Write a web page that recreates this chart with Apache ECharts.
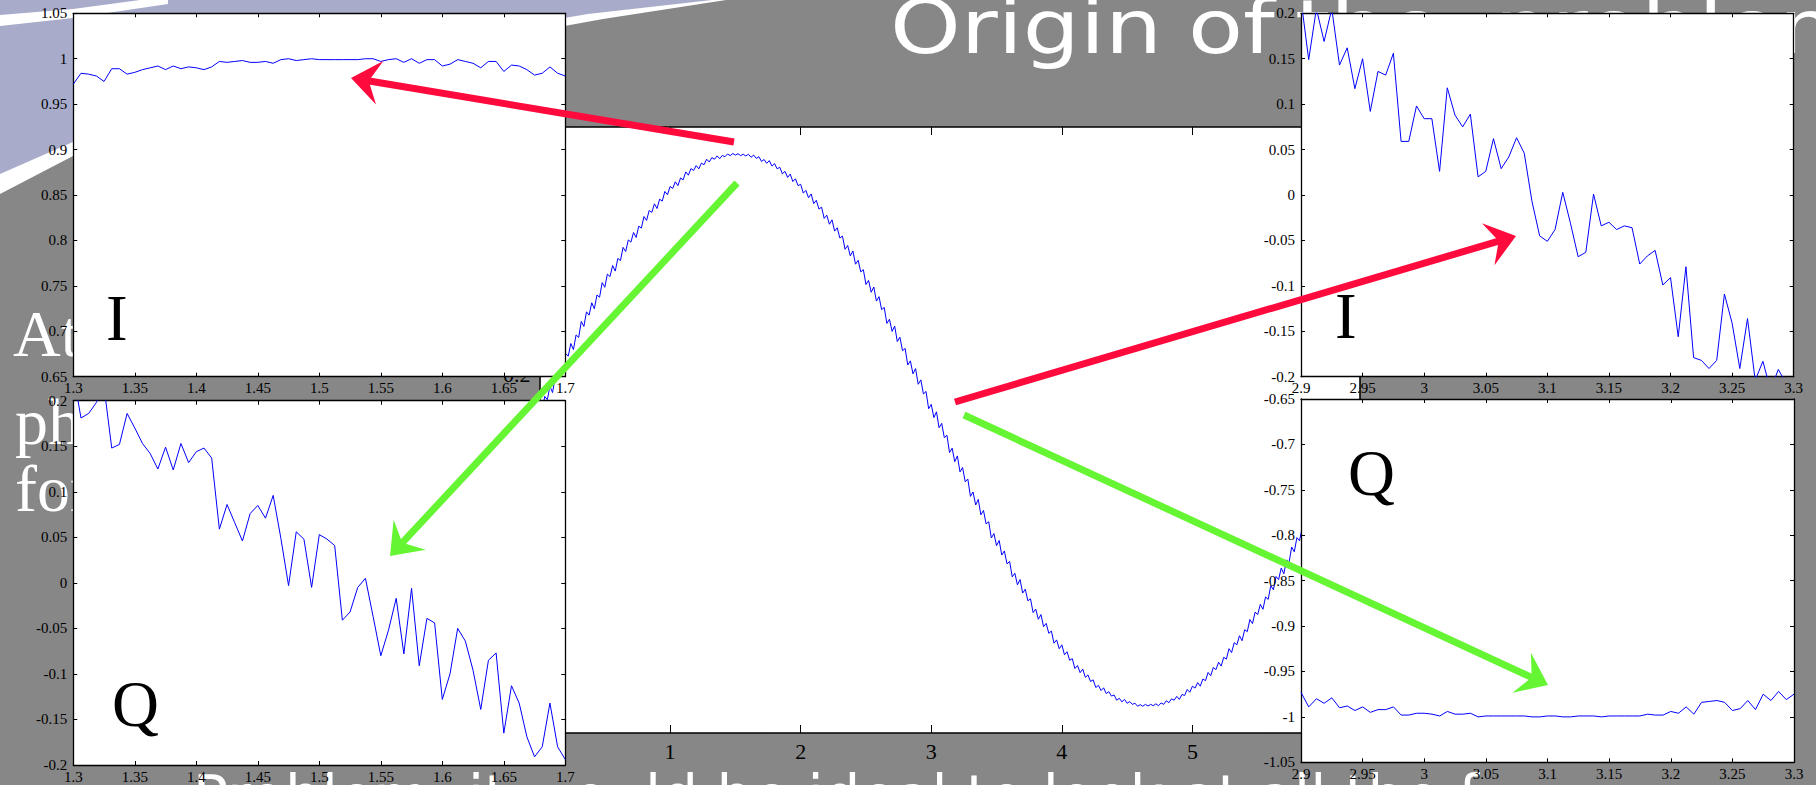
<!DOCTYPE html>
<html>
<head>
<meta charset="utf-8">
<script src="https://cdn.jsdelivr.net/npm/echarts/dist/echarts.min.js"></script>
<style>
html,body{margin:0;padding:0;background:#878787;overflow:hidden;}
#c{width:1816px;height:785px;}
</style>
</head>
<body>
<div id="c"></div>
<script>
// ---------------- DATA ----------------
// main plot: noisy received sinusoid, sampled on a regular grid (x = 0, 0.02, ... 6.28)
const centerXStart = 0;
const centerXStep = 0.02;
const centerY = [
0.084,0.066,0.122,0.110,0.159,0.136,0.191,0.182,0.242,0.224,0.278,0.268,0.314,0.292,0.345,0.336,0.394,0.376,0.429,0.417,
0.462,0.440,0.490,0.482,0.535,0.518,0.566,0.557,0.597,0.577,0.623,0.615,0.663,0.648,0.690,0.682,0.717,0.699,0.740,0.733,
0.775,0.761,0.797,0.790,0.821,0.804,0.838,0.831,0.866,0.854,0.884,0.877,0.901,0.887,0.915,0.908,0.937,0.925,0.949,0.942,
0.960,0.948,0.969,0.963,0.983,0.973,0.989,0.983,0.995,0.985,0.997,0.992,1.002,0.996,1.004,0.998,1.003,0.996,1.001,0.995,
1.001,0.990,0.998,0.986,0.992,0.975,0.982,0.968,0.978,0.958,0.967,0.948,0.954,0.930,0.939,0.917,0.929,0.902,0.912,0.887,
0.892,0.860,0.870,0.843,0.857,0.822,0.834,0.802,0.809,0.768,0.780,0.747,0.763,0.722,0.734,0.697,0.704,0.656,0.670,0.632,
0.650,0.602,0.616,0.574,0.582,0.528,0.543,0.500,0.519,0.468,0.484,0.437,0.445,0.387,0.402,0.358,0.377,0.321,0.337,0.288,
0.296,0.236,0.251,0.204,0.223,0.166,0.182,0.131,0.140,0.077,0.093,0.045,0.066,0.008,0.024,-0.028,-0.019,-0.082,-0.066,-0.115,
-0.094,-0.152,-0.136,-0.188,-0.178,-0.241,-0.225,-0.272,-0.252,-0.308,-0.292,-0.341,-0.333,-0.392,-0.376,-0.420,-0.401,-0.454,-0.439,-0.486,
-0.477,-0.533,-0.520,-0.562,-0.543,-0.592,-0.578,-0.620,-0.613,-0.663,-0.650,-0.687,-0.670,-0.714,-0.702,-0.738,-0.730,-0.774,-0.762,-0.794,
-0.780,-0.816,-0.805,-0.836,-0.830,-0.866,-0.855,-0.881,-0.868,-0.898,-0.889,-0.913,-0.907,-0.935,-0.927,-0.946,-0.936,-0.957,-0.950,-0.966,
-0.962,-0.981,-0.974,-0.987,-0.978,-0.992,-0.986,-0.996,-0.992,-1.003,-0.997,-1.003,-0.996,-1.002,-0.996,-1.001,-0.994,-1.001,-0.991,-0.996,
-0.983,-0.990,-0.976,-0.981,-0.967,-0.978,-0.960,-0.964,-0.942,-0.952,-0.930,-0.937,-0.917,-0.930,-0.904,-0.910,-0.880,-0.892,-0.862,-0.870,
-0.843,-0.857,-0.825,-0.832,-0.794,-0.808,-0.772,-0.780,-0.747,-0.765,-0.725,-0.732,-0.688,-0.703,-0.661,-0.670,-0.633,-0.651,-0.606,-0.615,
-0.565,-0.580,-0.532,-0.543,-0.501,-0.522,-0.472,-0.480,-0.425,-0.442,-0.391,-0.402,-0.356,-0.379,-0.326,-0.334,-0.276,-0.294,-0.239,-0.250,
-0.202,-0.226,-0.170,-0.179,-0.118,-0.136,-0.080,-0.093,-0.044,-0.067,-0.011,-0.020,0.041,0.023,0.079];

// zoomed insets (65 samples each, step 0.00625)
const insetStep = 0.00625;
const leftXStart = 1.3;
const rightXStart = 2.9;
const leftI = [0.972,0.984,0.983,0.981,0.975,0.989,0.989,0.983,0.985,0.988,0.990,0.992,0.988,0.992,0.989,0.991,0.990,0.988,0.991,0.997,0.996,0.997,0.998,0.996,0.996,0.997,0.995,0.999,1.000,0.998,0.999,1.000,0.999,0.999,0.999,0.999,0.999,0.999,1.000,1.000,0.997,0.999,1.000,0.996,1.000,0.995,0.999,0.999,0.992,0.994,0.999,0.997,0.995,0.990,0.997,0.997,0.986,0.993,0.992,0.988,0.982,0.984,0.991,0.984,0.981];
const leftQ = [0.230,0.181,0.186,0.198,0.215,0.148,0.152,0.186,0.170,0.153,0.142,0.125,0.149,0.124,0.153,0.132,0.144,0.148,0.137,0.059,0.086,0.066,0.046,0.076,0.085,0.071,0.096,0.049,-0.003,0.056,0.048,-0.005,0.053,0.048,0.041,-0.041,-0.032,-0.005,0.005,-0.037,-0.080,-0.052,-0.017,-0.078,-0.006,-0.091,-0.039,-0.044,-0.128,-0.100,-0.050,-0.064,-0.096,-0.139,-0.085,-0.077,-0.165,-0.113,-0.132,-0.169,-0.191,-0.180,-0.132,-0.180,-0.194];
const rightI = [0.215,0.149,0.205,0.169,0.205,0.143,0.162,0.117,0.150,0.092,0.136,0.132,0.156,0.059,0.059,0.098,0.084,0.084,0.026,0.118,0.088,0.075,0.089,0.020,0.026,0.062,0.029,0.042,0.063,0.046,-0.007,-0.045,-0.051,-0.038,0.003,-0.031,-0.068,-0.063,0.001,-0.034,-0.030,-0.038,-0.034,-0.036,-0.076,-0.067,-0.061,-0.099,-0.091,-0.156,-0.079,-0.179,-0.182,-0.191,-0.182,-0.109,-0.141,-0.191,-0.136,-0.204,-0.183,-0.215,-0.192,-0.207,-0.210];
const rightQ = [-0.973,-0.989,-0.980,-0.985,-0.979,-0.990,-0.988,-0.993,-0.989,-0.995,-0.992,-0.992,-0.989,-0.998,-0.998,-0.996,-0.996,-0.997,-0.999,-0.994,-0.997,-0.997,-0.996,-1.000,-0.999,-0.999,-0.999,-0.999,-0.999,-0.999,-1.000,-1.000,-0.999,-0.999,-1.000,-1.000,-0.999,-0.999,-0.999,-1.000,-0.999,-0.999,-0.999,-0.999,-0.999,-0.997,-0.998,-0.998,-0.994,-0.996,-0.989,-0.997,-0.984,-0.983,-0.982,-0.984,-0.993,-0.991,-0.982,-0.992,-0.975,-0.982,-0.972,-0.981,-0.975];

// axis ranges
const centerXRange = [0, 2 * Math.PI];
const centerYRange = [-1.1, 1.1];
const leftXRange = [1.3, 1.7];
const rightXRange = [2.9, 3.3];
const leftIRange = [0.65, 1.05];
const leftQRange = [-0.2, 0.2];
const rightIRange = [-0.2, 0.2];
const rightQRange = [-1.05, -0.65];

// texts
const titleWords = ['Origin', 'of', 'the', 'problem'];
const bodyFragments = ['At', 'ph', 'for'];
const bottomText = 'Problem: it would be ideal to look at all the f';
const insetLabels = ['I', 'Q', 'I', 'Q'];

// ---------------- CHART ----------------
const chart = echarts.init(document.getElementById('c'), null, {renderer: 'svg', width: 1816, height: 785});

const SERIF = '"Liberation Serif", "Times New Roman", serif';
const SANS = '"DejaVu Sans", sans-serif';
const toPairs = (ys, x0, dx) => ys.map((v, i) => [x0 + dx * i, v]);
const fmt = v => String(Math.round(v * 1000) / 1000);

function xAxes(gi, range, interval, main) {
  const common = {
    gridIndex: gi, type: 'value', min: range[0], max: range[1], interval: interval,
    z: main ? 1 : 6, splitLine: {show: false},
    axisLine: {show: true, onZero: false, lineStyle: {color: '#000', width: main ? 1.6 : 1.3}},
    axisTick: {show: true, inside: true, length: main ? 8 : 4, lineStyle: {color: '#000', width: 1}}
  };
  return [
    Object.assign({}, common, {position: 'bottom', axisLabel: {show: true, margin: main ? 7 : 4, color: '#000',
      fontFamily: SERIF, fontSize: main ? 22 : 15, formatter: fmt}}),
    Object.assign({}, common, {position: 'top', axisLabel: {show: false}})
  ];
}
function yAxes(gi, range, interval, main) {
  const common = {
    gridIndex: gi, type: 'value', min: range[0], max: range[1], interval: interval,
    z: main ? 1 : 6, splitLine: {show: false},
    axisLine: {show: true, onZero: false, lineStyle: {color: '#000', width: main ? 1.6 : 1.3}},
    axisTick: {show: !main, inside: true, length: 4, lineStyle: {color: '#000', width: 1}}
  };
  const labelFmt = main ? (v => { const t = Math.round(v * 10); return t % 2 === 0 ? String(t / 10) : ''; }) : fmt;
  return [
    Object.assign({}, common, {position: 'left', axisLabel: {show: true, margin: main ? 9 : 6, color: '#000',
      fontFamily: SERIF, fontSize: main ? 22 : 15, formatter: labelFmt}}),
    Object.assign({}, common, {position: 'right', axisLabel: {show: false}})
  ];
}

const grids = [
  {left: 539.5, top: 127, width: 820.5, height: 606, z: 0},
  {left: 73.3, top: 13.3, width: 492, height: 363.4, z: 5},
  {left: 73.3, top: 400.7, width: 492, height: 364.3, z: 5},
  {left: 1301, top: 13.3, width: 492.7, height: 363.4, z: 5},
  {left: 1301, top: 399, width: 493, height: 363.3, z: 5}
].map(g => Object.assign({show: true, backgroundColor: '#ffffff', borderWidth: 0, containLabel: false}, g));

const xAxis = [].concat(
  xAxes(0, centerXRange, 1, true),
  xAxes(1, leftXRange, 0.05, false),
  xAxes(2, leftXRange, 0.05, false),
  xAxes(3, rightXRange, 0.05, false),
  xAxes(4, rightXRange, 0.05, false)
);
const yAxis = [].concat(
  yAxes(0, centerYRange, 0.1, true),
  yAxes(1, leftIRange, 0.05, false),
  yAxes(2, leftQRange, 0.05, false),
  yAxes(3, rightIRange, 0.05, false),
  yAxes(4, rightQRange, 0.05, false)
);

function lineSeries(idx, data, z) {
  return {type: 'line', xAxisIndex: idx, yAxisIndex: idx, data: data, showSymbol: false, symbol: 'none',
    clip: true, silent: true, z: z, lineStyle: {color: '#0000ff', width: 1}};
}
const series = [
  lineSeries(0, toPairs(centerY, centerXStart, centerXStep), 2),
  lineSeries(2, toPairs(leftI, leftXStart, insetStep), 7),
  lineSeries(4, toPairs(leftQ, leftXStart, insetStep), 7),
  lineSeries(6, toPairs(rightI, rightXStart, insetStep), 7),
  lineSeries(8, toPairs(rightQ, rightXStart, insetStep), 7)
];

// ----- decorations -----
function arrow(x1, y1, x2, y2, color, w) {
  const dx = x2 - x1, dy = y2 - y1, len = Math.hypot(dx, dy);
  const ux = dx / len, uy = dy / len, nx = -uy, ny = ux;
  const L = 29, W = 22, N = 18;
  const bx = x2 - ux * L, by = y2 - uy * L;
  return [
    {type: 'line', z: 20, silent: true, shape: {x1: x1, y1: y1, x2: x2 - ux * (N - 7), y2: y2 - uy * (N - 7)},
      style: {stroke: color, lineWidth: w, lineCap: 'butt'}},
    {type: 'polygon', z: 20, silent: true,
      shape: {points: [[x2, y2], [bx + nx * W, by + ny * W], [x2 - ux * N, y2 - uy * N], [bx - nx * W, by - ny * W]]},
      style: {fill: color}}
  ];
}
function txt(text, x, y, size, family, color, z, extra) {
  return Object.assign({type: 'text', x: x, y: y, z: z, silent: true,
    style: {text: text, fill: color, font: size + 'px ' + family, fontSize: size, fontFamily: family,
      align: 'left', textAlign: 'left', verticalAlign: 'middle', textVerticalAlign: 'middle'}}, extra || {});
}
const RED = '#ff0a3c', GREEN = '#66f533';
const graphic = [
  {type: 'rect', z: -30, silent: true, shape: {x: 0, y: 0, width: 1816, height: 785}, style: {fill: '#878787'}},
  {type: 'polygon', z: -29, silent: true, shape: {points: [[0,0],[726,0],[603,19],[400,56],[200,112],[73,156],[0,194]]}, style: {fill: '#ffffff'}},
  {type: 'polygon', z: -28, silent: true, shape: {points: [[0,0],[712,0],[588,14],[400,46],[200,100],[73,142],[0,174]]}, style: {fill: '#a8acca'}},
  {type: 'polygon', z: -27, silent: true, shape: {points: [[0,15],[73,9],[140,0],[168,0],[168,4],[73,18],[0,26]]}, style: {fill: '#ffffff'}},
  // title
  txt(titleWords[0], 890, 27, 75, SANS, '#ffffff', -10, {scaleX: 1.2}),
  txt(titleWords[1], 1188, 27, 75, SANS, '#ffffff', -10, {scaleX: 1.2}),
  txt(titleWords[2], 1295, 27, 75, SANS, '#ffffff', -10, {scaleX: 1.2}),
  txt(titleWords[3], 1494, 27, 75, SANS, '#ffffff', -10, {scaleX: 1.2}),
  // body text fragments behind the plots
  txt(bodyFragments[0], 13, 333, 66, SERIF, '#ffffff', -10),
  txt(bodyFragments[1], 15, 421, 66, SERIF, '#ffffff', -10),
  txt(bodyFragments[2], 15, 488, 66, SERIF, '#ffffff', -10),
  txt(bottomText, 193, 797, 58, SANS, '#ffffff', -10),
  // inset labels
  txt(insetLabels[0], 106, 318, 65, SERIF, '#000000', 9),
  txt(insetLabels[1], 112, 704, 65, SERIF, '#000000', 9),
  txt(insetLabels[2], 1335, 316, 65, SERIF, '#000000', 9),
  txt(insetLabels[3], 1348, 473, 65, SERIF, '#000000', 9)
].concat(
  arrow(734, 142, 351, 78, RED, 7),
  arrow(737, 183, 390, 556, GREEN, 7),
  arrow(955, 402, 1516, 236, RED, 7),
  arrow(964, 415, 1548, 685, GREEN, 7)
);

chart.setOption({
  animation: false,
  backgroundColor: 'transparent',
  grid: grids,
  xAxis: xAxis,
  yAxis: yAxis,
  series: series,
  graphic: {elements: graphic}
});
</script>
</body>
</html>
